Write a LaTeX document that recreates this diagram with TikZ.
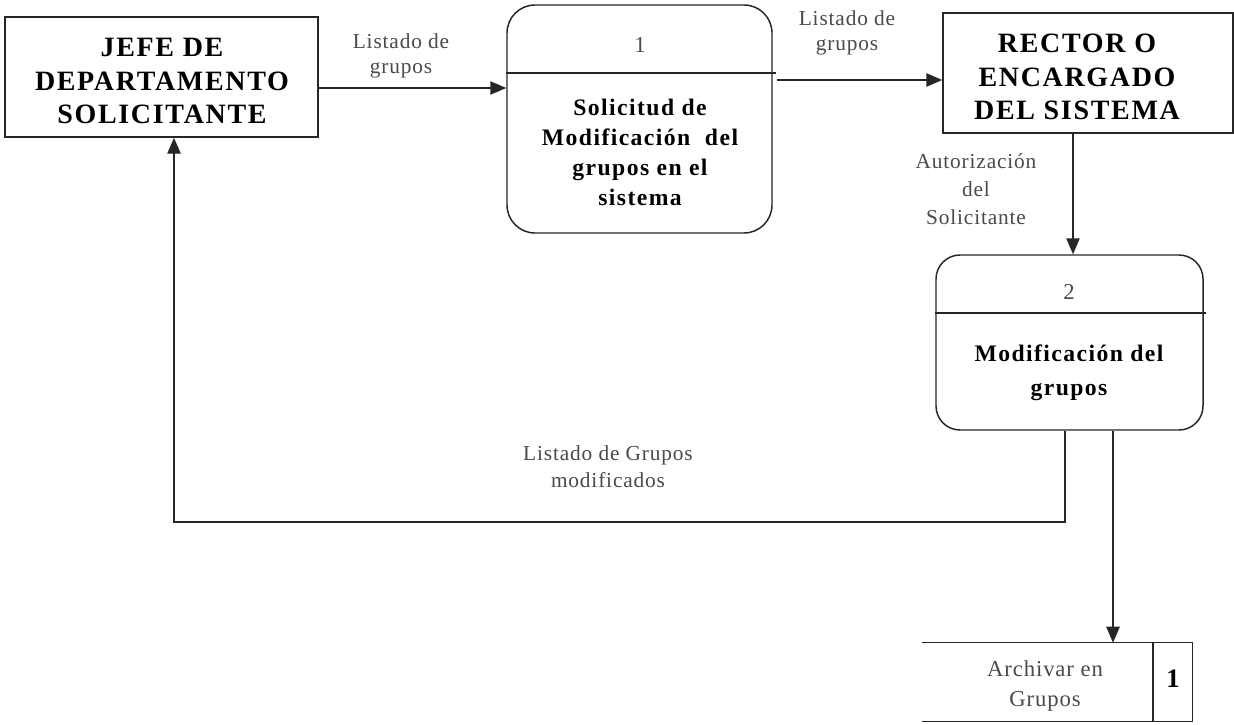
\documentclass[tikz,border=0pt]{standalone}
\usepackage{fontspec}
\setmainfont{Liberation Serif}
\newfontfamily\spacedfont{Liberation Serif}[LetterSpace=6]
\newfontfamily\labelfont{Liberation Serif}[LetterSpace=4]
\usetikzlibrary{arrows.meta}
\definecolor{ink}{HTML}{262626}
\definecolor{lbl}{HTML}{4A4A4A}
\tikzset{
  entity/.style={draw=ink, line width=1.1pt, inner sep=0pt},
  etext/.style={align=center, inner sep=0pt, text=black,
    font=\spacedfont\bfseries\fontsize{21pt}{25pt}\selectfont},
  proc/.style={draw=ink, line width=1.1pt, inner sep=0pt, rounded corners=21pt},
  ptext/.style={align=center, inner sep=0pt, text=black,
    font=\spacedfont\bfseries\fontsize{17.75pt}{22.5pt}\selectfont},
  pnum/.style={inner sep=0pt, text=lbl, font=\fontsize{17pt}{20pt}\selectfont},
  flow/.style={align=center, inner sep=0pt, text=lbl,
    font=\labelfont\fontsize{16pt}{19pt}\selectfont},
  arr/.style={draw=ink, line width=1.1pt, -{Triangle[length=12pt,width=10pt]}},
  ln/.style={draw=ink, line width=1.1pt},
}
\begin{document}
\begin{tikzpicture}[x=0.75pt,y=-0.75pt]
\fill[white] (0,0) rectangle (1234,724);
\useasboundingbox (0,0) rectangle (1234,724);

% external entities
\node[entity, minimum width=234.75pt, minimum height=90pt] (box1) at (161.5,77) {};
\node[etext] (box1t) at (162,81) {JEFE DE\\DEPARTAMENTO\\SOLICITANTE};
\node[entity, minimum width=217.5pt, minimum height=90pt] (box2) at (1088,73) {};
\node[etext] (box2t) at (1077,77) {RECTOR O\\ENCARGADO\\DEL SISTEMA};

% process 1
\node[proc, minimum width=198.75pt, minimum height=171pt] (p1) at (639.5,119) {};
\draw[ln] (p1.west |- 0,73) -- (p1.east |- 0,73) -- ++(3,0);
\node[pnum] (p1n) at (640,45) {1};
\node[ptext] (p1t) at (640,152) {Solicitud de\\Modificación\ \ del\\grupos en el\\sistema};

% process 2
\node[proc, rounded corners=18pt, minimum width=200.25pt, minimum height=131.25pt] (p2) at (1069.5,342.5) {};
\draw[ln] (p2.west |- 0,313) -- (p2.east |- 0,313) -- ++(2,0);
\node[pnum] (p2n) at (1069,292) {2};
\node[ptext, font=\spacedfont\bfseries\fontsize{17.75pt}{25.5pt}\selectfont] (p2t) at (1069,373) {Modificación del\\grupos};

% data store
\node[minimum width=202.5pt, minimum height=58.5pt, inner sep=0pt] (store) at (1057,682) {};
\draw[ln] (store.north west) -- (store.north east) -- (store.south east) -- (store.south west);
\draw[ln] (store.north -| 1153,0) -- (store.south -| 1153,0);
\node[flow, font=\labelfont\fontsize{17pt}{22.5pt}\selectfont] (storet) at (1045,686) {Archivar en\\Grupos};
\node[inner sep=0pt, text=black, font=\bfseries\fontsize{20pt}{22pt}\selectfont] (storen) at (1173,679) {1};

% flows
\draw[arr] (box1.east |- 0,88) -- (p1.west |- 0,88);
\draw[arr] (p1.east |- 0,80) ++(4,0) -- (box2.west |- 0,80);
\draw[arr] (1073,0 |- box2.south) -- (1073,0 |- p2.north);
\coordinate (c1) at (174,522);
\draw[arr] (p2.south -| 1065,0) |- (c1) -- (box1.south -| c1);
\draw[arr] (p2.south -| 1113,0) -- (store.north -| 1113,0);

% flow labels
\node[flow] (l1) at (401,56) {Listado de\\grupos};
\node[flow] (l2) at (847,33) {Listado de\\grupos};
\node[flow, font=\labelfont\fontsize{16pt}{21pt}\selectfont] (l3) at (976,189) {Autorización\\del\\Solicitante};
\node[flow, font=\labelfont\fontsize{16pt}{20pt}\selectfont] (l4) at (608,467) {Listado de Grupos\\modificados};
\end{tikzpicture}
\end{document}
